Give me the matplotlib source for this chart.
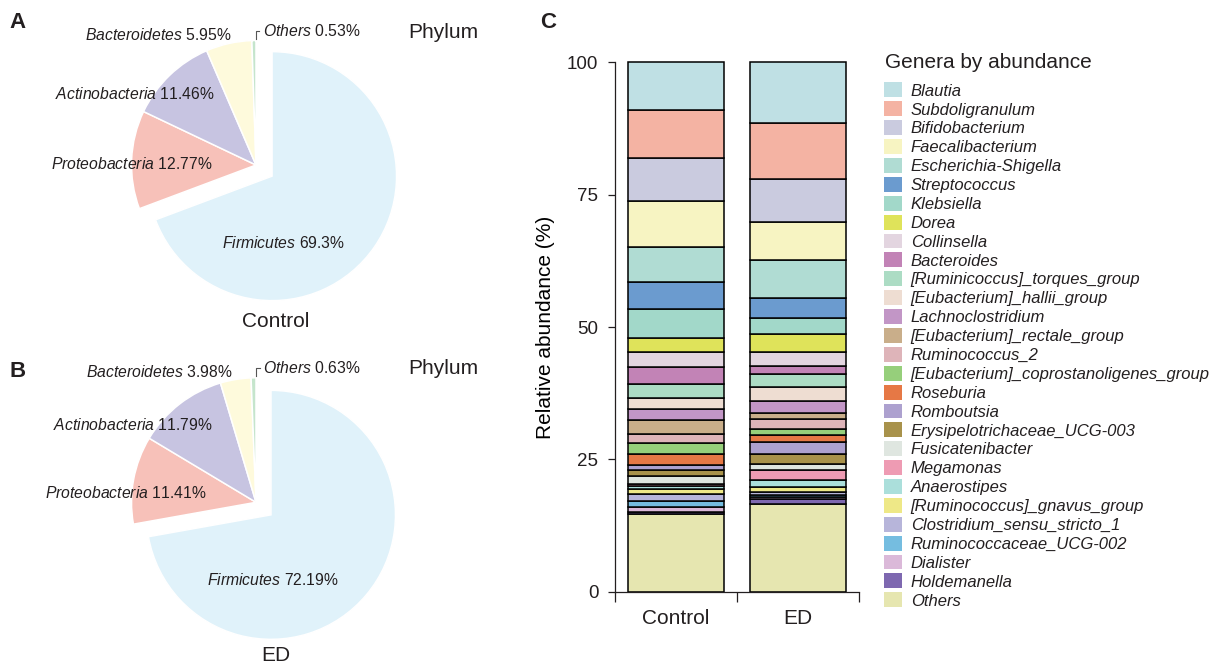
import numpy as np
import matplotlib
matplotlib.use('Agg')
import matplotlib.pyplot as plt
from matplotlib.patches import Patch

plt.rcParams['font.family'] = 'Liberation Sans'
plt.rcParams['mathtext.fontset'] = 'custom'
plt.rcParams['mathtext.rm'] = 'Liberation Sans'
plt.rcParams['mathtext.it'] = 'Liberation Sans:italic'
plt.rcParams['text.color'] = '#231f20'
plt.rcParams['axes.edgecolor'] = '#231f20'
plt.rcParams['xtick.color'] = '#231f20'
plt.rcParams['ytick.color'] = '#231f20'

W, H = 1232, 666

# ---------------- data ----------------
phyla = ['Firmicutes', 'Proteobacteria', 'Actinobacteria', 'Bacteroidetes', 'Others']
phylum_control = [69.3, 12.77, 11.46, 5.95, 0.53]
phylum_ed = [72.19, 11.41, 11.79, 3.98, 0.63]
phylum_colors = ['#e0f2fa', '#f7c1b9', '#c7c4e1', '#fefadc', '#c5e5cc']

groups = ['Control', 'ED']
genera = ['Blautia', 'Subdoligranulum', 'Bifidobacterium', 'Faecalibacterium',
          'Escherichia-Shigella', 'Streptococcus', 'Klebsiella', 'Dorea', 'Collinsella',
          'Bacteroides', '[Ruminicoccus]_torques_group', '[Eubacterium]_hallii_group',
          'Lachnoclostridium', '[Eubacterium]_rectale_group', 'Ruminococcus_2',
          '[Eubacterium]_coprostanoligenes_group', 'Roseburia', 'Romboutsia',
          'Erysipelotrichaceae_UCG-003', 'Fusicatenibacter', 'Megamonas', 'Anaerostipes',
          '[Ruminococcus]_gnavus_group', 'Clostridium_sensu_stricto_1',
          'Ruminococcaceae_UCG-002', 'Dialister', 'Holdemanella', 'Others']
control_vals = [8.95, 9.2, 8.0, 8.8, 6.5, 5.1, 5.5, 2.6, 2.9, 3.3, 2.6, 2.0, 2.1, 2.6,
                1.8, 2.0, 2.2, 0.9, 1.2, 1.4, 0.35, 0.6, 1.0, 1.3, 1.1, 1.0, 0.4, 14.6]
ed_vals = [11.5, 10.45, 8.25, 7.1, 7.3, 3.7, 3.1, 3.3, 2.7, 1.5, 2.4, 2.6, 2.3, 1.2,
           1.9, 1.2, 1.2, 2.3, 1.9, 1.2, 1.8, 1.3, 1.0, 0.5, 0.4, 0.4, 1.0, 16.5]
genus_colors = ['#bfe0e4', '#f4b3a3', '#cacbdf', '#f7f4c2', '#b0dcd3', '#6b9bcf',
                '#a2d8c9', '#dfe35a', '#e3d5e0', '#c283b6', '#acdcc4', '#eeddd2',
                '#c296c6', '#c9ae8a', '#deb4b9', '#96cf7b', '#e67845', '#ada1cf',
                '#a8924b', '#dfe6e0', '#ee9bb3', '#abdfdb', '#eee887', '#b7b5da',
                '#75bde0', '#dbb9d9', '#7e68b0', '#e6e6b0']

fig = plt.figure(figsize=(W / 100, H / 100), dpi=100)

R_PX = 124.5  # pie radius in pixels


def fx(px):
    return px / W


def fy(py):
    return 1 - py / H


def draw_pie(top, bottom, cx, cy, values, label_pos, group, group_pos):
    ax = fig.add_axes([0, fy(bottom), fx(500), (bottom - top) / H])
    ax.pie(values, colors=phylum_colors, startangle=90, counterclock=False,
           explode=[0.157, 0, 0, 0, 0], radius=1,
           wedgeprops=dict(edgecolor='white', linewidth=1.1))
    ax.set_aspect('auto')
    ax.set_xlim((0 - cx) / R_PX, (500 - cx) / R_PX)
    ax.set_ylim((cy - bottom) / R_PX, (cy - top) / R_PX)
    ax.axis('off')
    for name, val, (x, y, ha) in zip(phyla, values, label_pos):
        ax.text(x, y, f"$\\it{{{name}}}$ {val}%", ha=ha, va='center',
                fontsize=11.3, clip_on=False)
    # bracket for the tiny "Others" slice
    ox, oy, _ = label_pos[-1]
    ax.plot([ox - 0.058, ox - 0.058, ox - 0.03], [oy - 0.068, oy - 0.005, oy - 0.005],
            color='#555555', lw=0.8, clip_on=False)
    ax.text(group_pos[0], group_pos[1], group, ha='center', va='center', fontsize=15)


pos_a = [(0.221, -0.629, 'center'), (-0.351, 0.006, 'right'), (-0.329, 0.570, 'right'),
         (-0.193, 1.044, 'right'), (0.056, 1.079, 'left')]
pos_b = [(0.133, -0.624, 'center'), (-0.394, 0.077, 'right'), (-0.345, 0.623, 'right'),
         (-0.190, 1.049, 'right'), (0.059, 1.081, 'left')]
draw_pie(5, 335, 256, 165, phylum_control, pos_a, 'Control', (0.161, -1.259))
draw_pie(340, 666, 256, 502.3, phylum_ed, pos_b, 'ED', (0.161, -1.234))

fig.text(fx(18), fy(23), 'A', fontsize=16, fontweight='bold', ha='center', va='center')
fig.text(fx(18), fy(371), 'B', fontsize=16, fontweight='bold', ha='center', va='center')
fig.text(fx(548), fy(23), 'C', fontsize=16, fontweight='bold', ha='center', va='center')
fig.text(fx(443), fy(33), 'Phylum', fontsize=15, ha='center', va='center')
fig.text(fx(443), fy(369), 'Phylum', fontsize=15, ha='center', va='center')

# ---------------- stacked bars ----------------
axb = fig.add_axes([fx(615), fy(591.6), 244 / W, (591.6 - 62.4) / H])
x = np.arange(len(groups))
bottom = np.zeros(len(groups))
for name, c, vc, ve in reversed(list(zip(genera, genus_colors, control_vals, ed_vals))):
    vals = np.array([vc, ve])
    axb.bar(x, vals, 0.78, bottom=bottom, color=c, edgecolor='black',
            linewidth=1.1, clip_on=False)
    bottom += vals
axb.set_xlim(-0.5, 1.5)
axb.set_ylim(0, 100)
axb.spines[['top', 'right']].set_visible(False)
for s in ['left', 'bottom']:
    axb.spines[s].set_linewidth(0.9)
axb.set_yticks([0, 25, 50, 75, 100])
axb.tick_params(axis='y', length=5, width=0.9, labelsize=13.5, pad=7)
axb.set_xticks([-0.5, 0.5, 1.5])
axb.set_xticklabels([])
axb.set_xticks(x, minor=True)
axb.set_xticklabels(groups, minor=True)
axb.tick_params(axis='x', which='major', length=7, width=0.9)
axb.tick_params(axis='x', which='minor', length=0, labelsize=15, pad=12.5)
axb.set_ylabel('Relative abundance (%)', fontsize=15, labelpad=8.5)

fig.text(fx(885), fy(63), 'Genera by abundance', fontsize=15, ha='left', va='center')
handles = [Patch(facecolor=c, edgecolor='none') for c in genus_colors]
fig.legend(handles, genera, loc='upper left', bbox_to_anchor=(fx(884), fy(82.5)),
           frameon=False, prop={'style': 'italic', 'size': 12},
           alignment='left', handlelength=1.05, handleheight=1.0,
           labelspacing=0.163, handletextpad=0.55, borderpad=0, borderaxespad=0)

fig.savefig('out.png', dpi=100)
